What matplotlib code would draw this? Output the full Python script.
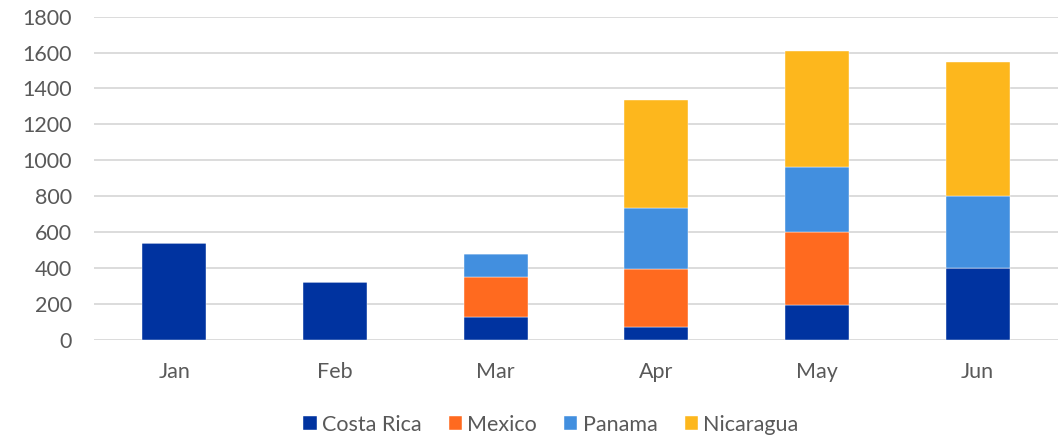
import matplotlib
matplotlib.use("Agg")
import matplotlib.pyplot as plt
import numpy as np

months = ["Jan", "Feb", "Mar", "Apr", "May", "Jun"]
costa_rica = [540, 320, 125, 70, 190, 400]
mexico = [0, 0, 225, 323, 410, 0]
panama = [0, 0, 126, 341, 363, 400]
nicaragua = [0, 0, 0, 600, 647, 745]
yticks = [0, 200, 400, 600, 800, 1000, 1200, 1400, 1600, 1800]

series = [("Costa Rica", costa_rica, "#0033A0"),
          ("Mexico", mexico, "#FF6A1F"),
          ("Panama", panama, "#428FDF"),
          ("Nicaragua", nicaragua, "#FDB71D")]

plt.rcParams['font.family'] = ['Lato', 'DejaVu Sans']
FS = 15.5
fig = plt.figure(figsize=(10.61, 4.36), dpi=100)
ax = fig.add_axes([94/1061, 96.5/436, 964/1061, (339.5-16.7)/436])

x = np.arange(len(months))
bottom = np.zeros(len(months))
for name, vals, col in series:
    v = np.array(vals, dtype=float)
    ax.bar(x, v, width=0.4, bottom=bottom, color=col, label=name, zorder=3,
           edgecolor="white", linewidth=0.3)
    bottom += v

ax.set_xlim(-0.5, len(months) - 0.5)
ax.set_ylim(0, 1800)
ax.set_yticks(yticks)
ax.set_yticklabels([str(t) for t in yticks])
ax.set_xticks(x)
ax.set_xticklabels(months)
ax.grid(axis="y", color="#D9D9D9", linewidth=1.3, zorder=0)
for s in ax.spines.values():
    s.set_visible(False)
ax.tick_params(axis="both", length=0, labelsize=FS, colors="#595959")
ax.tick_params(axis="y", pad=16)
ax.tick_params(axis="x", pad=16.5)

leg = fig.legend(loc="center", bbox_to_anchor=(551/1061, 1 - 424.5/436), ncol=4,
                 frameon=False, fontsize=FS, handlelength=0.62, handleheight=0.62,
                 columnspacing=1.25, handletextpad=0.25)
for t in leg.get_texts():
    t.set_color("#595959")

fig.savefig("out.png", dpi=100)
